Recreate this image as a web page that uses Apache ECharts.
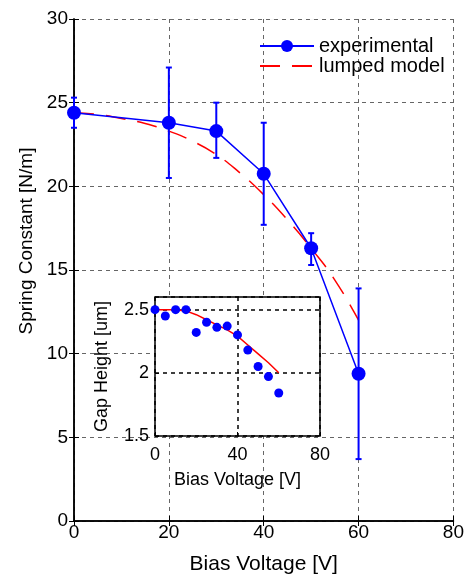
<!DOCTYPE html>
<html>
<head>
<meta charset="utf-8">
<script src="https://cdn.jsdelivr.net/npm/echarts@6/dist/echarts.min.js"></script>
<style>html,body{margin:0;padding:0;background:#fff}#c{width:467px;height:580px}</style>
</head>
<body>
<div id="c"></div>
<script>
// Main chart data
var voltage = [0, 20, 30, 40, 50, 60];
var springK = [24.4, 23.8, 23.3, 20.75, 16.3, 8.8];
var errLow = [23.5, 20.5, 21.7, 17.7, 15.3, 3.7];
var errHigh = [25.3, 27.1, 25.0, 23.8, 17.2, 13.9];
var modelVoltage = [0, 5, 10, 15, 20, 25, 30, 35, 40, 45, 50, 55, 60];
var modelK = [24.4, 24.3, 24.05, 23.75, 23.3, 22.7, 21.9, 20.8, 19.5, 18.0, 16.3, 14.4, 12.0];
// Inset data
var insetVoltage = [0, 5, 10, 15, 20, 25, 30, 35, 40, 45, 50, 55, 60];
var insetGap = [2.50, 2.45, 2.50, 2.50, 2.32, 2.40, 2.36, 2.37, 2.30, 2.18, 2.05, 1.97, 1.84];
var insetModelGap = [2.50, 2.50, 2.50, 2.49, 2.46, 2.42, 2.38, 2.34, 2.29, 2.22, 2.15, 2.08, 2.00];

var FONT = 'Liberation Sans';
var BLUE = '#0000ff', RED = '#ff0000';

function zip(a, b) { return a.map(function (v, i) { return [v, b[i]]; }); }

var chart = echarts.init(document.getElementById('c'), null, { renderer: 'canvas' });
var option = {
  animation: false,
  backgroundColor: '#fff',
  textStyle: { fontFamily: FONT, color: '#000' },
  grid: [
    { left: 74, right: 7, top: 19, bottom: 58, show: false },
    { left: 155, right: 147, top: 297, bottom: 144, show: true, backgroundColor: '#fff', borderColor: '#000', borderWidth: 1.5, z: 10 }
  ],
  legend: {
    orient: 'vertical', left: 254, top: 31, itemWidth: 54, itemHeight: 15, itemGap: 0,
    textStyle: { fontFamily: FONT, fontSize: 20, lineHeight: 20, color: '#000' },
    data: [
      { name: 'experimental' },
      { name: 'lumped model', itemStyle: { opacity: 0 } }
    ]
  },
  xAxis: [
    { type: 'value', gridIndex: 0, min: 0, max: 80, interval: 20,
      name: 'Bias Voltage [V]', nameLocation: 'middle', nameGap: 33,
      nameTextStyle: { fontFamily: FONT, fontSize: 21, color: '#000' },
      axisLine: { lineStyle: { color: '#000', width: 1.5 } },
      axisTick: { inside: true, length: 5, lineStyle: { color: '#000' } },
      axisLabel: { fontFamily: FONT, fontSize: 19, color: '#000', margin: 2 },
      splitLine: { show: true, lineStyle: { color: '#666', type: [4, 4], width: 1 } } },
    { type: 'value', gridIndex: 0, position: 'top', min: 0, max: 80, interval: 20,
      axisLine: { lineStyle: { color: '#000', width: 1.5 } },
      axisTick: { inside: true, length: 5, lineStyle: { color: '#000' } },
      axisLabel: { show: false }, splitLine: { show: false } },
    { type: 'value', gridIndex: 1, min: 0, max: 80, interval: 40, z: 11,
      name: 'Bias Voltage [V]', nameLocation: 'middle', nameGap: 35,
      nameTextStyle: { fontFamily: FONT, fontSize: 18, color: '#000' },
      axisLine: { show: false },
      axisTick: { inside: true, length: 4, lineStyle: { color: '#000' } },
      axisLabel: { fontFamily: FONT, fontSize: 18, color: '#000', margin: 10 },
      splitLine: { show: true, lineStyle: { color: '#000', type: [4, 4], width: 1.5 } } }
  ],
  yAxis: [
    { type: 'value', gridIndex: 0, min: 0, max: 30, interval: 5,
      name: 'Spring Constant [N/m]', nameLocation: 'middle', nameGap: 36,
      nameTextStyle: { fontFamily: FONT, fontSize: 19, color: '#000', padding: [0, 0, 0, 58] },
      axisLine: { lineStyle: { color: '#000', width: 1.5 } },
      axisTick: { inside: true, length: 5, lineStyle: { color: '#000' } },
      axisLabel: { fontFamily: FONT, fontSize: 19, color: '#000', margin: 6 },
      splitLine: { show: true, lineStyle: { color: '#666', type: [4, 4], width: 1 } } },
    { type: 'value', gridIndex: 0, position: 'right', min: 0, max: 30, interval: 5,
      axisLine: { show: true, lineStyle: { color: '#000', width: 1.5 } },
      axisTick: { show: true, inside: true, length: 5, lineStyle: { color: '#000' } },
      axisLabel: { show: false }, splitLine: { show: false } },
    { type: 'value', gridIndex: 1, min: 1.5, max: 2.6, interval: 0.5, z: 11,
      name: 'Gap Height [um]', nameLocation: 'middle', nameGap: 44,
      nameTextStyle: { fontFamily: FONT, fontSize: 18, color: '#000' },
      axisLine: { show: false },
      axisTick: { inside: true, length: 4, lineStyle: { color: '#000' } },
      axisLabel: { fontFamily: FONT, fontSize: 18, color: '#000', margin: 6, showMaxLabel: false,
        formatter: function (v) { return v > 2.55 ? '' : String(v); } },
      splitLine: { show: true, lineStyle: { color: '#000', type: [4, 4], width: 1.5 } } }
  ],
  series: [
    { name: 'errorbars', type: 'custom', xAxisIndex: 0, yAxisIndex: 0, z: 3,
      data: voltage.map(function (v, i) { return [v, errLow[i], errHigh[i]]; }),
      renderItem: function (params, api) {
        var x = api.value(0);
        var p1 = api.coord([x, api.value(1)]);
        var p2 = api.coord([x, api.value(2)]);
        var w = 3;
        var st = { stroke: BLUE, lineWidth: 2 };
        return { type: 'group', children: [
          { type: 'line', shape: { x1: p1[0], y1: p1[1], x2: p2[0], y2: p2[1] }, style: st },
          { type: 'line', shape: { x1: p1[0] - w, y1: p1[1], x2: p1[0] + w, y2: p1[1] }, style: st },
          { type: 'line', shape: { x1: p2[0] - w, y1: p2[1], x2: p2[0] + w, y2: p2[1] }, style: st }
        ] };
      } },
    { name: 'lumped model', type: 'line', xAxisIndex: 0, yAxisIndex: 0, z: 2,
      data: zip(modelVoltage, modelK), smooth: true, showSymbol: false, symbol: 'none',
      itemStyle: { color: RED },
      lineStyle: { color: RED, width: 1.5, type: [20, 12] } },
    { name: 'experimental', type: 'line', xAxisIndex: 0, yAxisIndex: 0, z: 4,
      data: zip(voltage, springK), symbol: 'circle', symbolSize: 14,
      itemStyle: { color: BLUE }, lineStyle: { color: BLUE, width: 1.5 } },
    { name: 'inset model', type: 'line', xAxisIndex: 2, yAxisIndex: 2, z: 12,
      data: zip(insetVoltage, insetModelGap), showSymbol: false, symbol: 'none',
      lineStyle: { color: RED, width: 1.5 } },
    { name: 'inset data', type: 'scatter', xAxisIndex: 2, yAxisIndex: 2, z: 13,
      data: zip(insetVoltage, insetGap), symbol: 'circle', symbolSize: 9,
      itemStyle: { color: BLUE, opacity: 1 } }
  ]
};
chart.setOption(option);
</script>
</body>
</html>
